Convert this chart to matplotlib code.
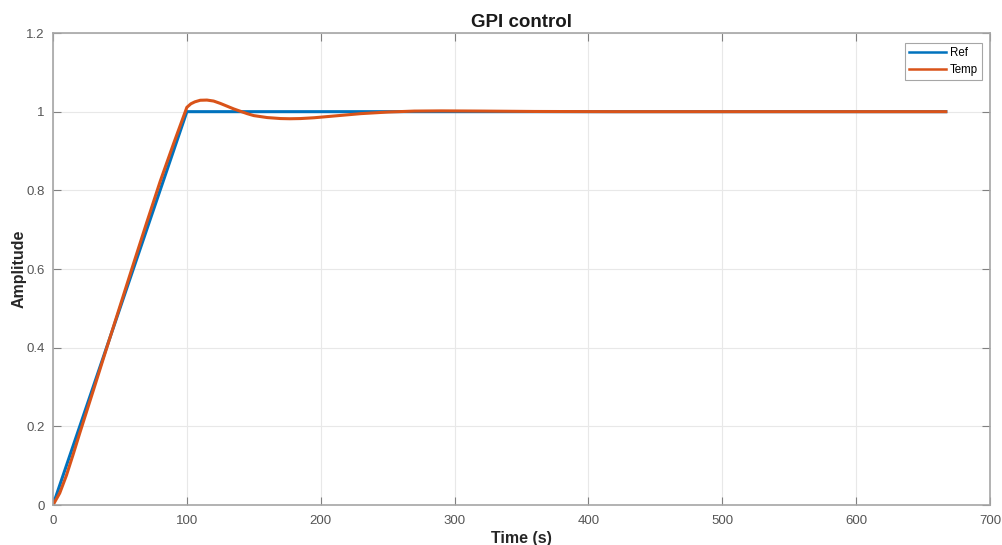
import numpy as np
import matplotlib
matplotlib.use('Agg')
import matplotlib.pyplot as plt

plt.rcParams['font.family'] = ['Liberation Sans', 'DejaVu Sans']

#========== datos ==========
t_ref = [0, 100, 667]
y_ref = [0, 1, 1]

t_temp = [0, 5, 10, 15, 20, 30, 40, 50, 60, 70, 80, 90, 100, 103, 106, 110, 115,
          120, 125, 130, 135, 140, 145, 150, 160, 170, 177, 185, 195, 210, 230,
          250, 270, 290, 320, 360, 420, 667]
y_temp = [0, 0.03, 0.075, 0.128, 0.183, 0.29, 0.398, 0.505, 0.612, 0.718, 0.822,
          0.918, 1.011, 1.02, 1.025, 1.029, 1.0295, 1.027, 1.021, 1.014, 1.007,
          1.001, 0.995, 0.99, 0.985, 0.9825, 0.982, 0.9825, 0.9845, 0.989, 0.995,
          0.999, 1.0015, 1.002, 1.0015, 1.0005, 1.0, 1.0]

c_ref = '#0072BD'
c_temp = '#D95319'
gris = '#a6a6a6'

fig = plt.figure(figsize=(10.02, 5.45), dpi=100)
ax = fig.add_axes([53/1002, 40/545, 937/1002, 472/545])

ax.plot(t_ref, y_ref, color=c_ref, lw=2.2, label='Ref')
ax.plot(t_temp, y_temp, color=c_temp, lw=2.2, label='Temp')

ax.set_xlim(0, 700)
ax.set_ylim(0, 1.2)
ax.set_xticks(np.arange(0, 701, 100))
ax.set_yticks([0, 0.2, 0.4, 0.6, 0.8, 1, 1.2])
ax.set_yticklabels(['0', '0.2', '0.4', '0.6', '0.8', '1', '1.2'])
ax.grid(True, color='#e8e8e8', lw=0.8)
ax.set_axisbelow(True)
for s in ax.spines.values():
    s.set_color(gris)
    s.set_linewidth(1.2)
ax.tick_params(direction='in', top=True, right=True, colors='#808080',
               labelcolor='#555555', labelsize=9.5, length=6)
ax.tick_params(axis='x', pad=7)
ax.tick_params(axis='y', pad=6)

ax.set_title('GPI control', fontsize=13.5, fontweight='bold', color='#1a1a1a', pad=4)
ax.set_xlabel('Time (s)', fontsize=11.5, fontweight='bold', color='#262626', labelpad=3)
ax.set_ylabel('Amplitude', fontsize=11.5, fontweight='bold', color='#262626', labelpad=0)

leg = ax.legend(loc='upper right', fontsize=8.3, fancybox=False, framealpha=1,
                edgecolor=gris, handlelength=3.2, borderpad=0.35, borderaxespad=0,
                bbox_to_anchor=(0.9915, 0.979), labelspacing=0.45, handletextpad=0.35)
leg.get_frame().set_linewidth(0.8)
for ln in leg.get_lines():
    ln.set_linewidth(1.8)

fig.savefig('out.png', dpi=100)
